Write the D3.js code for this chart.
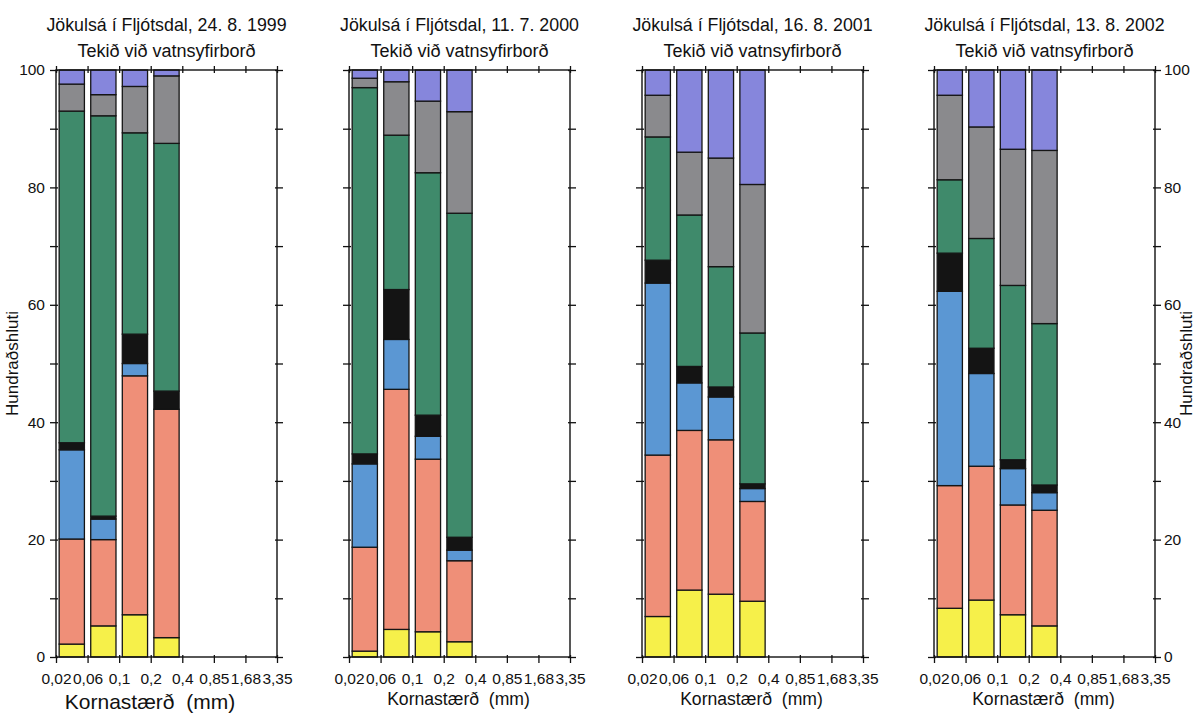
<!DOCTYPE html>
<html>
<head>
<meta charset="utf-8">
<script src="https://cdn.jsdelivr.net/npm/d3@7"></script>
<style>
  html, body { margin: 0; padding: 0; background: #fff; }
  svg { display: block; font-family: "Liberation Sans", Arial, Helvetica, sans-serif; }
</style>
</head>
<body>
<svg id="chart" width="1198" height="713"></svg>
<script>
// Grain-size class boundaries (mm) shown on the x axis
const sizeTicks = ["0,02", "0,06", "0,1", "0,2", "0,4", "0,85", "1,68", "3,35"];
// Size fractions that hold a bar (first four intervals)
const fractions = ["0,02-0,06", "0,06-0,1", "0,1-0,2", "0,2-0,4"];
// Stacked components, bottom to top
const layers = ["gulur", "ljósrauður", "blár", "svartur", "grænn", "grár", "fjólublár"];
const layerColors = ["#f6f04a", "#ef8f78", "#5b97d3", "#141414", "#3f8a6b", "#8a8a8d", "#8686dc"];

// Sampling dates, one panel each
const sampleDates = ["24. 8. 1999", "11. 7. 2000", "16. 8. 2001", "13. 8. 2002"];

// Percentages per fraction: [gulur, ljósrauður, blár, svartur, grænn, grár, fjólublár]
const sample1999 = [
  [2.2, 17.9, 15.2, 1.2, 56.5, 4.6, 2.4],
  [5.3, 14.7, 3.5, 0.5, 68.2, 3.6, 4.2],
  [7.2, 40.7, 2.1, 5.0, 34.3, 7.9, 2.8],
  [3.3, 38.9, 0.0, 3.1, 42.2, 11.5, 1.0]
];
const sample2000 = [
  [1.0, 17.7, 14.2, 1.7, 62.4, 1.6, 1.4],
  [4.7, 40.9, 8.5, 8.5, 26.3, 9.1, 2.0],
  [4.3, 29.4, 3.9, 3.6, 41.3, 12.2, 5.3],
  [2.6, 13.8, 1.8, 2.2, 55.2, 17.3, 7.1]
];
const sample2001 = [
  [6.9, 27.5, 29.3, 3.9, 21.0, 7.1, 4.3],
  [11.4, 27.2, 8.1, 2.8, 25.8, 10.7, 14.0],
  [10.7, 26.3, 7.3, 1.7, 20.5, 18.5, 15.0],
  [9.5, 17.0, 2.2, 0.8, 25.7, 25.3, 19.5]
];
const sample2002 = [
  [8.3, 20.9, 33.1, 6.5, 12.5, 14.4, 4.3],
  [9.7, 22.8, 15.8, 4.3, 18.7, 19.0, 9.7],
  [7.2, 18.7, 6.2, 1.5, 29.7, 23.2, 13.5],
  [5.3, 19.7, 3.0, 1.3, 27.5, 29.5, 13.7]
];
const samples = [sample1999, sample2000, sample2001, sample2002];

const yTicks = [0, 10, 20, 30, 40, 50, 60, 70, 80, 90, 100];
const yLabels = [0, 20, 40, 60, 80, 100];

const svg = d3.select("#chart");
const panelLeft = [56, 349, 642, 934];
const panelW = 221, plotTop = 70, plotBottom = 657;

const y = d3.scaleLinear().domain([0, 100]).range([plotBottom, plotTop]);
const stack = d3.stack().keys(d3.range(layers.length));

samples.forEach((rows, p) => {
  const g = svg.append("g").attr("transform", `translate(${panelLeft[p]},0)`);

  // Tick positions at class boundaries, bars centred in the intervals between them
  const xTick = d3.scalePoint().domain(sizeTicks).range([0, panelW]);
  const xBand = d3.scaleBand().domain(d3.range(sizeTicks.length - 1))
    .range([0, panelW]).paddingInner(0.2).paddingOuter(0.1);

  const series = stack(rows);
  series.forEach((s, k) => {
    g.append("g").selectAll("rect").data(s).join("rect")
      .attr("x", (d, i) => xBand(i))
      .attr("width", xBand.bandwidth())
      .attr("y", d => y(d[1]))
      .attr("height", d => y(d[0]) - y(d[1]))
      .attr("fill", layerColors[k])
      .attr("stroke", "#151515")
      .attr("stroke-width", d => (d[1] - d[0]) > 0 ? 1.3 : 0);
  });

  // Frame
  g.append("rect").attr("x", 0).attr("y", plotTop).attr("width", panelW).attr("height", plotBottom - plotTop)
    .attr("fill", "none").attr("stroke", "#111").attr("stroke-width", 1.4);

  const crossTicks = (sel, outer, inner, horizontal) => {
    sel.select(".domain").remove();
    sel.selectAll(".tick line").attr("stroke", "#111").attr("stroke-width", 1.3)
      .attr(horizontal ? "x1" : "y1", inner).attr(horizontal ? "x2" : "y2", outer);
  };

  // Bottom axis with class-boundary labels
  const xb = g.append("g").attr("transform", `translate(0,${plotBottom})`)
    .call(d3.axisBottom(xTick).tickSize(6).tickPadding(10));
  crossTicks(xb, 6, -2, false);
  xb.selectAll("text").attr("font-size", 15.5).attr("fill", "#111");

  // Top axis: ticks only
  const xt = g.append("g").attr("transform", `translate(0,${plotTop})`)
    .call(d3.axisTop(xTick).tickSize(4).tickFormat(""));
  crossTicks(xt, -4, 3, false);

  // Left and right percentage ticks
  const yl = g.append("g").call(d3.axisLeft(y).tickValues(yTicks).tickSize(6).tickFormat(""));
  crossTicks(yl, -6, 2, true);
  const yr = g.append("g").attr("transform", `translate(${panelW},0)`)
    .call(d3.axisRight(y).tickValues(yTicks).tickSize(6).tickFormat(""));
  crossTicks(yr, 6, -2, true);

  if (p === 0) {
    const lab = g.append("g").call(d3.axisLeft(y).tickValues(yLabels).tickSize(0).tickPadding(11));
    lab.select(".domain").remove();
    lab.selectAll("text").attr("font-size", 15.5).attr("fill", "#111");
    g.append("text").attr("transform", `translate(-38,${(plotTop + plotBottom) / 2}) rotate(-90)`)
      .attr("text-anchor", "middle").attr("font-size", 17).attr("fill", "#111").text("Hundraðshluti");
  }
  if (p === samples.length - 1) {
    const lab = g.append("g").attr("transform", `translate(${panelW},0)`)
      .call(d3.axisRight(y).tickValues(yLabels).tickSize(0).tickPadding(9));
    lab.select(".domain").remove();
    lab.selectAll("text").attr("font-size", 15.5).attr("fill", "#111");
    g.append("text").attr("transform", `translate(${panelW + 37},${(plotTop + plotBottom) / 2}) rotate(-90)`)
      .attr("text-anchor", "middle").attr("font-size", 17).attr("fill", "#111").text("Hundraðshluti");
  }

  // Titles
  g.append("text").attr("x", panelW / 2).attr("y", 31).attr("text-anchor", "middle")
    .attr("font-size", 17.8).attr("fill", "#111").text(`Jökulsá í Fljótsdal, ${sampleDates[p]}`);
  g.append("text").attr("x", panelW / 2).attr("y", 57).attr("text-anchor", "middle")
    .attr("font-size", 18).attr("fill", "#111").text("Tekið við vatnsyfirborð");

  // Axis title
  g.append("text").attr("x", p === 0 ? 94 : panelW / 2 - 1).attr("y", p === 0 ? 709 : 705)
    .attr("text-anchor", "middle")
    .attr("font-size", p === 0 ? 21 : 17.6).attr("fill", "#111")
    .attr("xml:space", "preserve").text("Kornastærð  (mm)");
});
</script>
</body>
</html>
